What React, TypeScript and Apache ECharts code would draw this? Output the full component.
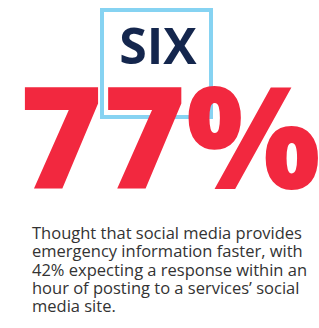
import React, { useEffect, useRef } from "react";
import * as echarts from "echarts";

const headline = "SIX";
const bigValue = "77%";
const bodyLines = [
  "Thought that social media provides",
  "emergency information faster, with",
  "42% expecting a response within an",
  "hour of posting to a services’ social",
  "media site.",
];

export default function App() {
  const ref = useRef<HTMLDivElement>(null);
  useEffect(() => {
    document.body.style.margin = "0";
    const chart = echarts.init(ref.current!, null, { renderer: "svg" });
    chart.setOption({
      animation: false,
      backgroundColor: "#ffffff",
      graphic: [
        {
          type: "rect",
          shape: { x: 102, y: 10, width: 109, height: 107 },
          style: { fill: "none", stroke: "#86d3f2", lineWidth: 4 },
          z: 1,
        },
        {
          type: "text",
          x: 158,
          y: 45,
          style: {
            text: headline,
            font: "bold 50px 'Open Sans'",
            fill: "#14264d",
            align: "center",
            verticalAlign: "middle",
          },
          z: 2,
        },
        {
          type: "text",
          x: 170,
          y: 134,
          style: {
            text: bigValue,
            font: "800 142px 'Open Sans'",
            fill: "#f2283f",
            align: "center",
            verticalAlign: "middle",
          },
          z: 3,
        },
        {
          type: "text",
          x: 32,
          y: 223,
          style: {
            text: bodyLines.join("\n"),
            font: "16.5px 'Open Sans'",
            lineHeight: 18.4,
            fill: "#333333",
            align: "left",
            verticalAlign: "top",
          },
          z: 2,
        },
      ],
    });
    return () => chart.dispose();
  }, []);
  return (
    <div
      ref={ref}
      style={{ position: "fixed", left: 0, top: 0, width: 319, height: 328 }}
    />
  );
}
